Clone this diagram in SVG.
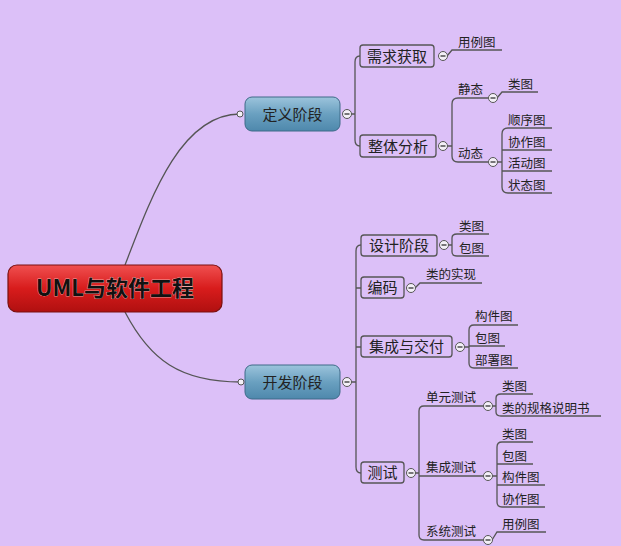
<svg xmlns="http://www.w3.org/2000/svg" width="621" height="546" viewBox="0 0 621 546">
<defs>
<linearGradient id="red" x1="0" y1="0" x2="0" y2="1"><stop offset="0" stop-color="#f05050"/><stop offset="0.5" stop-color="#d81c1c"/><stop offset="1" stop-color="#b01010"/></linearGradient>
<linearGradient id="blue" x1="0" y1="0" x2="0" y2="1"><stop offset="0" stop-color="#9cc4dc"/><stop offset="0.5" stop-color="#6aa0c0"/><stop offset="1" stop-color="#4e88ac"/></linearGradient>
<style>
text{font-family:"Noto Sans CJK SC","Liberation Sans",sans-serif;fill:#222}
.l{fill:none;stroke:#555;stroke-width:1.3}
.b{fill:#dcc0f8;stroke:#555;stroke-width:1.3}
.t{font-size:15px}
.s{font-size:12.5px}
.m{fill:#f4f0f8;stroke:#555;stroke-width:1}
</style>
<g id="minus"><circle r="4.5" class="m"/><line x1="-2.5" x2="2.5" stroke="#333" stroke-width="1.3"/></g>
</defs>
<rect width="621" height="546" fill="#dcc0f8"/>
<g id="connectors">
<path class="l" d="M125 265 C150 200,180 114,240 114"/>
<path class="l" d="M125 312 C150 360,180 382,241 382"/>
<path class="l" d="M351 114 H355 M360 56 Q355 56 355 62 V140 Q355 146 360 146"/>
<path class="l" d="M447 56 L452 50 H502"/>
<path class="l" d="M447 146 H452 M458 98 Q452 98 452 104 V156 Q452 162 458 162 H488 M458 98 H488"/>
<path class="l" d="M497 98 L502 92 H538"/>
<path class="l" d="M497 162 H502 M508 128 Q502 128 502 134 V187 Q502 193 508 193 H552 M502 150 H552 M502 171 H552 M508 128 H552"/>
<path class="l" d="M351 382 H356 M361 245 Q356 245 356 251 V467 Q356 473 361 473 M356 288 H361 M356 347 H361"/>
<path class="l" d="M448 245 H452 M457 234 Q452 234 452 238 V252 Q452 256 457 256 H489 M457 234 H489"/>
<path class="l" d="M415 288 L420 283 H482"/>
<path class="l" d="M464 347 H469 M474 325 Q469 325 469 330 V363 Q469 368 474 368 H518 M469 346 H505 M474 325 H518"/>
<path class="l" d="M415 473 H419 M424 406 Q419 406 419 411 V535 Q419 540 424 540 H484 M419 476 H484 M424 406 H484"/>
<path class="l" d="M492 406 H496 M501 394 Q496 394 496 398 V412 Q496 416 501 416 H601 M501 394 H533"/>
<path class="l" d="M492 476 H497 M502 442 Q497 442 497 447 V502 Q497 507 502 507 H545 M497 464 H533 M497 485 H545 M502 442 H533"/>
<path class="l" d="M492 540 L497 532 H546"/>
</g>
<g id="root"><rect x="8" y="265" width="214" height="47" rx="9" fill="url(#red)" stroke="#7a1010" stroke-width="1.2"/><text x="115" y="296" text-anchor="middle" style="font-size:22px;font-weight:bold;fill:#111;stroke:#fff;stroke-width:0.4;paint-order:stroke">UML与软件工程</text></g>
<g id="n1"><rect x="245" y="97" width="95" height="34" rx="7" fill="url(#blue)" stroke="#3e6a88"/><text x="292.5" y="120" text-anchor="middle" class="t">定义阶段</text><circle cx="240" cy="114" r="3" class="m"/><use href="#minus" x="347" y="114"/></g>
<g id="n2"><rect x="360" y="45" width="74" height="22" rx="3" class="b"/><text x="397" y="62" text-anchor="middle" class="t">需求获取</text><use href="#minus" x="443" y="56"/><text x="458" y="47" class="s">用例图</text></g>
<g id="n3"><rect x="360" y="135" width="76" height="22" rx="3" class="b"/><text x="398" y="152" text-anchor="middle" class="t">整体分析</text><use href="#minus" x="443" y="146"/>
<text x="458" y="94" class="s">静态</text><use href="#minus" x="493" y="98"/><text x="508" y="89" class="s">类图</text>
<text x="458" y="158" class="s">动态</text><use href="#minus" x="493" y="162"/>
<text x="508" y="125" class="s">顺序图</text><text x="508" y="147" class="s">协作图</text><text x="508" y="168" class="s">活动图</text><text x="508" y="190" class="s">状态图</text></g>
<g id="n4"><rect x="245" y="365" width="95" height="34" rx="7" fill="url(#blue)" stroke="#3e6a88"/><text x="292.5" y="388" text-anchor="middle" class="t">开发阶段</text><circle cx="241" cy="382" r="3" class="m"/><use href="#minus" x="347" y="382"/></g>
<g id="n5"><rect x="361" y="235" width="76" height="21" rx="3" class="b"/><text x="399" y="251" text-anchor="middle" class="t">设计阶段</text><use href="#minus" x="444" y="245"/><text x="459" y="231" class="s">类图</text><text x="459" y="253" class="s">包图</text></g>
<g id="n6"><rect x="361" y="277" width="43" height="21" rx="3" class="b"/><text x="382.5" y="293" text-anchor="middle" class="t">编码</text><use href="#minus" x="411" y="288"/><text x="426" y="279" class="s">类的实现</text></g>
<g id="n7"><rect x="361" y="336" width="91" height="21" rx="3" class="b"/><text x="406.5" y="352" text-anchor="middle" class="t">集成与交付</text><use href="#minus" x="460" y="347"/><text x="475" y="321" class="s">构件图</text><text x="475" y="343" class="s">包图</text><text x="475" y="365" class="s">部署图</text></g>
<g id="n8"><rect x="361" y="462" width="43" height="21" rx="3" class="b"/><text x="382.5" y="478" text-anchor="middle" class="t">测试</text><use href="#minus" x="411" y="473"/>
<text x="426" y="402" class="s">单元测试</text><use href="#minus" x="488" y="406"/><text x="502" y="391" class="s">类图</text><text x="502" y="413" class="s">类的规格说明书</text>
<text x="426" y="472" class="s">集成测试</text><use href="#minus" x="488" y="476"/><text x="502" y="439" class="s">类图</text><text x="502" y="461" class="s">包图</text><text x="502" y="482" class="s">构件图</text><text x="502" y="504" class="s">协作图</text>
<text x="426" y="536" class="s">系统测试</text><use href="#minus" x="488" y="540"/><text x="502" y="529" class="s">用例图</text></g>
</svg>
